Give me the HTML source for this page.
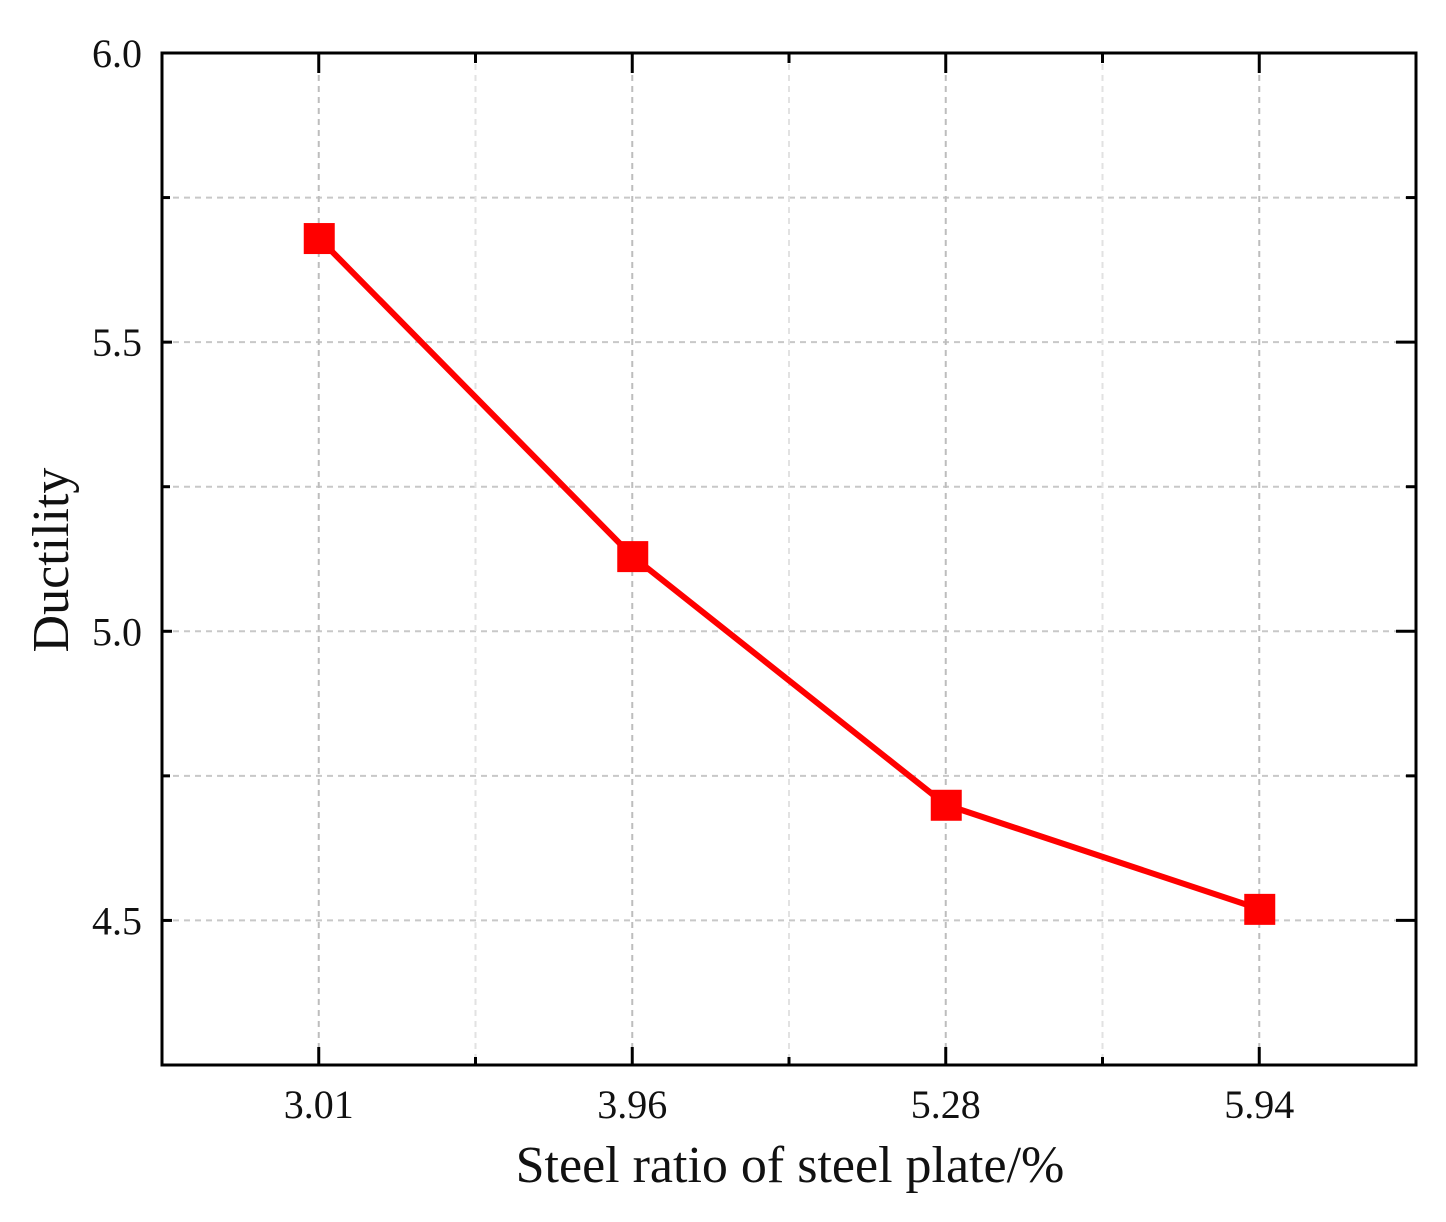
<!DOCTYPE html>
<html><head><meta charset="utf-8"><style>
html,body{margin:0;padding:0;background:#fff;}
svg text{font-family:"Liberation Serif",serif;fill:#111;}
</style></head><body>
<svg id="chart" width="1446" height="1217" xmlns="http://www.w3.org/2000/svg"></svg>
<script>
const categories = ["3.01","3.96","5.28","5.94"];
const ductility = [5.68, 5.13, 4.70, 4.52];
const yTicks = [4.5, 5.0, 5.5, 6.0];
const yTickLabels = ["4.5","5.0","5.5","6.0"];
const yMinorTicks = [4.75, 5.25, 5.75];

const L=162,R=1416,T=53,B=1065,yMin=4.25,yMax=6.0;
const step=(R-L)/categories.length;
const xs=i=>L+step*(i+0.5);
const ys=v=>B-(v-yMin)/(yMax-yMin)*(B-T);
const svg=document.getElementById('chart');
const NS='http://www.w3.org/2000/svg';
function mk(tag,attrs,parent){const e=document.createElementNS(NS,tag);for(const k in attrs)e.setAttribute(k,attrs[k]);(parent||svg).appendChild(e);return e;}

const grid=mk('g',{});


yTicks.concat(yMinorTicks).forEach(v=>{if(v>=yMax)return;const l=mk('line',{x1:L,x2:R,y1:ys(v),y2:ys(v),stroke:'#c8c8c8','stroke-width':2,'stroke-dasharray':'6,5'},grid);

});
for(let i=0;i<categories.length;i++){[xs(i),xs(i)+step/2].forEach((x,j)=>{if(x>=R-1)return;const l=mk('line',{x1:x,x2:x,y1:T,y2:B,stroke:j?'#e2e2e2':'#bdbdbd','stroke-width':2,'stroke-dasharray':'6,5'},grid);

});}

const frame=mk('rect',{x:L,y:T,width:R-L,height:B-T,fill:'none',stroke:'#000','stroke-width':3});



yTicks.forEach((v,i)=>{const y=ys(v);
 mk('line',{x1:L,x2:L+10,y1:y,y2:y,stroke:'#000','stroke-width':3});
 mk('line',{x1:R,x2:R-20,y1:y,y2:y,stroke:'#000','stroke-width':3});
 const t=mk('text',{x:L-20,y:y+14,'text-anchor':'end','font-size':40});t.textContent=yTickLabels[i];
 
 });
yMinorTicks.forEach(v=>{const y=ys(v);mk('line',{x1:L,x2:L+8,y1:y,y2:y,stroke:'#000','stroke-width':3});mk('line',{x1:R,x2:R-10,y1:y,y2:y,stroke:'#000','stroke-width':3});});
categories.forEach((c,i)=>{const x=xs(i);
 mk('line',{x1:x,x2:x,y1:B,y2:B-18,stroke:'#000','stroke-width':3});
 mk('line',{x1:x,x2:x,y1:T,y2:T+20,stroke:'#000','stroke-width':3});
 mk('line',{x1:x+step/2,x2:x+step/2,y1:B,y2:B-8,stroke:'#000','stroke-width':3});
 mk('line',{x1:x+step/2,x2:x+step/2,y1:T,y2:T+10,stroke:'#000','stroke-width':3});
 const t=mk('text',{x:x,y:B+53,'text-anchor':'middle','font-size':40});t.textContent=c;
 
 });

const xt=mk('text',{x:790,y:1182,'text-anchor':'middle','font-size':52});xt.textContent='Steel ratio of steel plate/%';


const yt=mk('text',{x:0,y:0,'text-anchor':'middle','font-size':52,transform:'translate(68,560) rotate(-90)'});yt.textContent='Ductility';



const line=mk('polyline',{points:ductility.map((v,i)=>xs(i)+','+ys(v)).join(' '),fill:'none',stroke:'#ff0000','stroke-width':6});


ductility.forEach((v,i)=>{const m=mk('rect',{x:xs(i)-15,y:ys(v)-15,width:31,height:31,fill:'#ff0000'});

});
</script>
</body></html>
